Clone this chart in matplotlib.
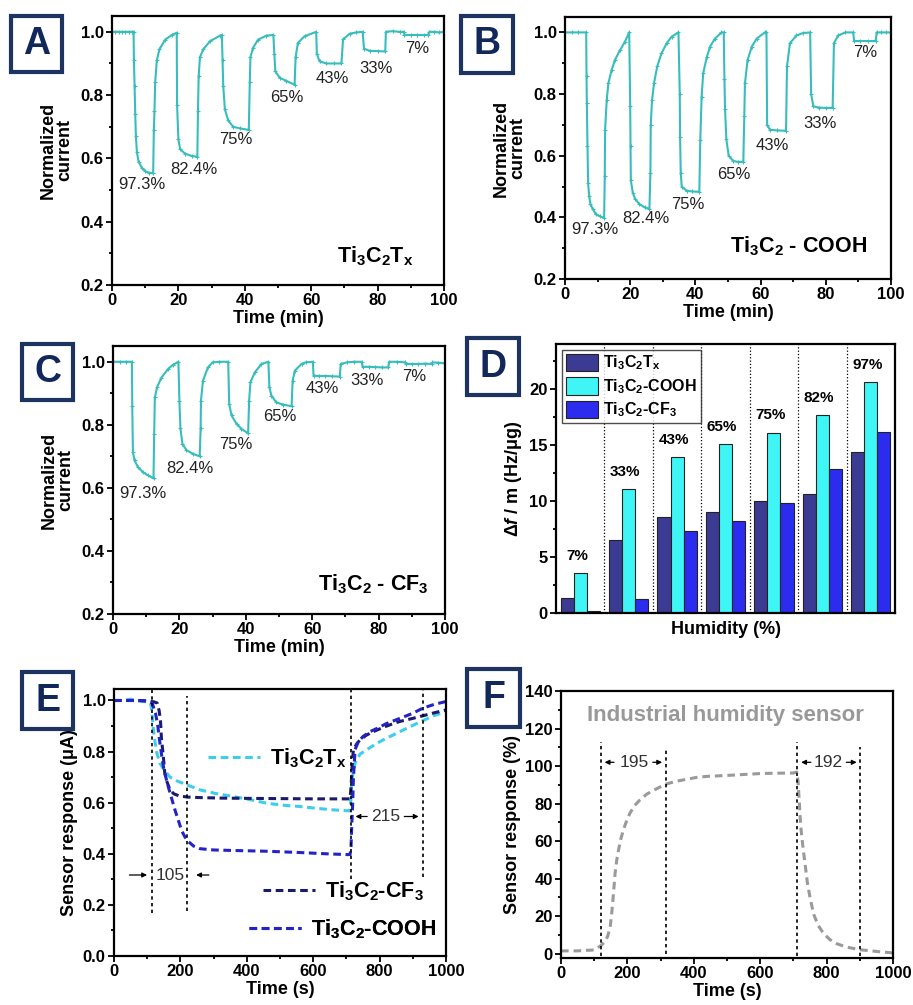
import matplotlib
matplotlib.use('Agg')
import matplotlib.pyplot as plt
from matplotlib.patches import Rectangle
from matplotlib.ticker import MultipleLocator

plt.rcParams['font.family'] = ['Liberation Sans', 'DejaVu Sans']
plt.rcParams['font.weight'] = 'bold'
plt.rcParams['axes.labelweight'] = 'bold'
plt.rcParams['mathtext.default'] = 'regular'
plt.rcParams['mathtext.fontset'] = 'custom'
plt.rcParams['mathtext.rm'] = 'Liberation Sans:bold'
plt.rcParams['mathtext.it'] = 'Liberation Sans:italic:bold'
plt.rcParams['mathtext.bf'] = 'Liberation Sans:bold'

# ---- panel A : Ti3C2Tx, normalized current vs time (min)
a_time = [0, 1, 2, 3, 4, 5, 6, 6.5,
          6.6, 6.8, 7.0, 7.2, 7.5, 8, 9, 10, 11, 12.4,
          12.6, 12.8, 13.0, 13.5, 14.3, 16, 18, 19.5,
          19.6, 20.0, 20.5, 22, 24, 25.7,
          25.9, 26.1, 26.5, 27.5, 29.5, 32.5, 33.1,
          33.3, 33.5, 34, 35, 36.5, 38.5, 41.2,
          41.5, 41.7, 42.5, 44, 46.5, 48.6,
          48.9, 49.2, 50.5, 52.5, 55.0,
          55.3, 56, 58, 61.5,
          61.7, 62.5, 64.5, 67, 69.1,
          69.6, 71.6, 73.5, 75.5,
          75.9, 77.6, 80, 82.3,
          82.5, 84.5, 86.6, 87.9,
          88.1, 90, 92, 94, 95.2,
          95.6, 97, 98.5, 100]
a_current = [1.0, 1.0, 1.0, 1.0, 1.0, 1.0, 1.0, 1.0,
             0.91, 0.83, 0.74, 0.67, 0.62, 0.59, 0.57, 0.56, 0.555, 0.553,
             0.69, 0.75, 0.84, 0.91, 0.945, 0.975, 0.99, 0.997,
             0.77, 0.66, 0.63, 0.615, 0.608, 0.605,
             0.75, 0.86, 0.92, 0.945, 0.97, 0.988, 0.99,
             0.91, 0.83, 0.755, 0.72, 0.70, 0.695, 0.69,
             0.84, 0.92, 0.95, 0.975, 0.988, 0.99,
             0.93, 0.875, 0.855, 0.845, 0.833,
             0.92, 0.965, 0.986, 1.0,
             0.93, 0.907, 0.90, 0.90, 0.90,
             0.976, 0.994, 0.998, 1.0,
             0.947, 0.94, 0.939, 0.938,
             1.0, 1.002, 1.0, 1.0,
             0.99, 0.99, 0.99, 0.99, 0.99,
             1.0, 1.0, 0.998, 1.0]

# ---- panel B : Ti3C2-COOH
b_time = [0, 2, 4, 6.5,
          6.6, 6.7, 6.9, 7.1, 7.4, 7.8, 8.5, 9.5, 10.8, 12.0,
          12.2, 12.3, 12.8, 13.3, 14.3, 15.3, 16.9, 18.4, 19.7,
          20.0, 20.1, 20.2, 20.8, 21.5, 22.8, 24.5, 25.9,
          26.2, 26.3, 26.7, 27.3, 28.3, 29.6, 31.2, 32.7, 34.8,
          35.2, 35.3, 35.5, 35.8, 37.3, 39, 41.2,
          41.5, 41.9, 42.4, 43.5, 44.5, 46, 48, 48.7,
          48.9, 49.1, 49.5, 50.2, 51.6, 53, 54.7,
          55.0, 55.2, 56, 57.3, 58.8, 61.3, 61.8,
          62.0, 62.9, 65, 67.8,
          68.1, 69, 71, 73, 75.2,
          75.5, 76.2, 78, 80, 82.1,
          82.5, 83.8, 86, 88.4,
          88.7, 90.5, 93, 95.3,
          95.6, 97, 98.5, 100]
b_current = [1.0, 1.0, 1.0, 1.0,
             0.86, 0.77, 0.63, 0.51, 0.47, 0.443, 0.427, 0.41, 0.403, 0.398,
             0.535, 0.685, 0.78, 0.835, 0.878, 0.91, 0.943, 0.97, 1.0,
             0.76, 0.63, 0.52, 0.48, 0.46, 0.443, 0.432, 0.428,
             0.545, 0.70, 0.78, 0.835, 0.89, 0.932, 0.965, 0.986, 1.0,
             0.80, 0.66, 0.545, 0.50, 0.486, 0.484, 0.483,
             0.65, 0.79, 0.868, 0.92, 0.954, 0.98, 1.0, 1.0,
             0.85, 0.75, 0.653, 0.60, 0.583, 0.58, 0.58,
             0.73, 0.835, 0.91, 0.954, 0.98, 1.0, 1.0,
             0.70, 0.684, 0.682, 0.681,
             0.89, 0.965, 0.99, 0.998, 1.0,
             0.80, 0.76, 0.756, 0.755, 0.755,
             0.965, 0.99, 1.0, 1.0,
             0.972, 0.972, 0.972, 0.972,
             1.0, 1.0, 1.0, 1.0]

# ---- panel C : Ti3C2-CF3
c_time = [0, 2, 4, 5.7,
          5.8, 6.0, 6.5, 7.5, 9, 10.5, 12.2,
          12.4, 12.6, 13.3, 14.6, 16.6, 18, 19.7,
          20.0, 20.3, 20.9, 22.1, 24.1, 26.1,
          26.4, 26.5, 27.1, 28.6, 30, 32, 34.7,
          35.0, 35.7, 37.2, 38.7, 40.7,
          41.0, 41.4, 42.7, 44.7, 46.8,
          47.1, 47.7, 49.2, 51.3, 53.8,
          54.1, 54.8, 56.8, 58, 60.2,
          60.4, 62, 64, 66, 68.3,
          68.6, 70.4, 72.5, 74.9,
          75.2, 77, 79, 81, 82.9,
          83.2, 85.5, 88,
          88.3, 90, 92, 94, 96,
          96.2, 98, 100]
c_current = [1.0, 1.0, 1.0, 1.0,
             0.86, 0.713, 0.687, 0.666, 0.65, 0.64, 0.63,
             0.77, 0.887, 0.92, 0.95, 0.977, 0.99, 1.0,
             0.877, 0.79, 0.74, 0.72, 0.708, 0.70,
             0.79, 0.877, 0.94, 0.982, 0.998, 1.0, 1.0,
             0.866, 0.83, 0.803, 0.787, 0.773,
             0.877, 0.935, 0.966, 0.993, 1.0,
             0.92, 0.893, 0.871, 0.864, 0.859,
             0.94, 0.972, 0.993, 0.998, 1.0,
             0.956, 0.955, 0.955, 0.954, 0.953,
             0.993, 0.998, 1.0, 1.0,
             0.984, 0.984, 0.983, 0.982, 0.982,
             1.0, 1.0, 0.998,
             0.993, 0.993, 0.993, 0.994, 0.993,
             0.998, 0.997, 0.995]

rh_steps = ['97.3%', '82.4%', '75%', '65%', '43%', '33%', '7%']

# ---- panel D : frequency shift per mass
humidity = ['7%', '33%', '43%', '65%', '75%', '82%', '97%']
d_tx = [1.3, 6.5, 8.55, 9.0, 9.95, 10.6, 14.35]
d_cooh = [3.6, 11.1, 13.95, 15.1, 16.1, 17.65, 20.6]
d_cf3 = [0.2, 1.25, 7.3, 8.25, 9.85, 12.85, 16.15]

# ---- panel E : response / recovery (s)
e_time_tx = [0, 25, 50, 75, 100, 110, 114, 117, 121, 128, 138, 150, 169, 190, 219,
             259, 310, 360, 410, 460, 510, 560, 610, 660, 709,
             713, 716, 721, 726, 741, 761, 786, 811, 836, 861, 886, 912, 937, 962, 1000]
e_tx = [1.0, 1.0, 1.005, 0.998, 0.995, 0.99, 0.96, 0.91, 0.86, 0.80, 0.755, 0.73, 0.70, 0.685, 0.67,
        0.65, 0.635, 0.624, 0.612, 0.598, 0.59, 0.585, 0.578, 0.572, 0.568,
        0.60, 0.69, 0.72, 0.755, 0.79, 0.807, 0.828, 0.846, 0.862, 0.878, 0.894, 0.91, 0.925, 0.94, 0.957]
e_time_cf3 = [0, 25, 50, 75, 100, 120, 130, 136, 140, 143, 148, 153, 160, 169, 180, 195,
              221, 260, 320, 400, 500, 600, 700, 711,
              714, 717, 721, 731, 741, 761, 781, 811, 836, 861, 900, 930, 965, 1000]
e_cf3 = [1.0, 1.0, 1.0, 1.0, 0.998, 0.995, 0.99, 0.96, 0.92, 0.85, 0.79, 0.715, 0.68, 0.65, 0.635, 0.627,
         0.622, 0.62, 0.618, 0.617, 0.616, 0.615, 0.615, 0.615,
         0.66, 0.74, 0.807, 0.83, 0.846, 0.865, 0.878, 0.895, 0.907, 0.918, 0.93, 0.94, 0.952, 0.963]
e_time_cooh = [0, 25, 50, 75, 100, 115, 125, 132, 137, 143, 149, 156, 164, 174, 184, 194, 204, 214, 224,
               240, 259, 300, 360, 460, 560, 640, 700, 711,
               714, 716, 719, 721, 726, 736, 751, 771, 791, 821, 861, 900, 930, 965, 1000]
e_cooh = [1.0, 1.0, 1.0, 1.0, 0.998, 0.99, 0.95, 0.90, 0.846, 0.79, 0.74, 0.70, 0.66, 0.615, 0.57, 0.53, 0.49, 0.465, 0.448,
          0.43, 0.42, 0.415, 0.413, 0.41, 0.405, 0.40, 0.397, 0.397,
          0.43, 0.506, 0.60, 0.69, 0.807, 0.84, 0.86, 0.878, 0.89, 0.91, 0.93, 0.95, 0.97, 0.985, 0.996]
e_marks = [113, 221, 714, 930]

# ---- panel F : industrial sensor
f_time = [0, 50, 100, 118, 130, 140, 148, 153, 158, 163, 168, 173, 180, 188, 198, 208, 222, 238,
          258, 278, 300, 320, 350, 380, 410, 440, 500, 550, 600, 650, 700, 710,
          714, 718, 722, 728, 735, 742, 750, 761, 775, 791, 810, 831, 860, 901, 950, 1000]
f_resp = [1.5, 1.5, 2, 4, 6, 9, 14, 22, 32, 43, 50, 55, 61, 66, 71, 75, 79, 82,
          85, 87, 89, 90.6, 92, 93, 94, 94.5, 95, 95.5, 96, 96.2, 96.3, 96.8,
          92, 80, 68, 58, 48, 38, 30, 21, 15, 10.7, 7.5, 5.3, 3.5, 2.1, 1.2, 0.4]
f_marks = [120, 316, 712, 902]

W, H = 913, 1005
TEAL = '#38bdbd'
NAVY = '#1d3461'


def rect(l, t, r, b):
    return [l / W, 1 - b / H, (r - l) / W, (b - t) / H]


def style(ax):
    for s in ax.spines.values():
        s.set_linewidth(1.6)
    ax.tick_params(which='both', direction='out', width=1.3, labelsize=12, pad=2)
    ax.tick_params(which='major', length=4)
    ax.tick_params(which='minor', length=2.5)


def panel_label(fig, l, t, r, b, letter):
    fig.patches.append(Rectangle((l / W, 1 - b / H), (r - l) / W, (b - t) / H,
                                 transform=fig.transFigure, facecolor='white',
                                 edgecolor=NAVY, lw=3, zorder=5))
    fig.text((l + r) / 2 / W, 1 - (t + b) / 2 / H, letter, ha='center', va='center',
             fontsize=27, color='#13285a', fontweight='bold', zorder=6)


def current_panel(ax, t, v, name, label_pos, name_pos):
    ax.plot(t, v, color=TEAL, lw=1.5, marker='+', ms=3, mew=0.8)
    ax.set_xlim(0, 100)
    ax.set_ylim(0.2, 1.05)
    ax.xaxis.set_major_locator(MultipleLocator(20))
    ax.xaxis.set_minor_locator(MultipleLocator(10))
    ax.yaxis.set_major_locator(MultipleLocator(0.2))
    ax.yaxis.set_minor_locator(MultipleLocator(0.1))
    style(ax)
    ax.set_xlabel('Time (min)', fontsize=13, labelpad=1)
    ax.set_ylabel('Normalized\ncurrent', fontsize=13, labelpad=5, linespacing=1.0)
    for lab, (x, y) in zip(rh_steps, label_pos):
        ax.text(x, y, lab, ha='center', va='center', fontsize=12, fontweight='normal', color='#222222')
    ax.text(name_pos[0], name_pos[1], name, ha='center', va='center', fontsize=15.5)


fig = plt.figure(figsize=(W / 100, H / 100), dpi=100)

# A
axA = fig.add_axes(rect(112, 16, 444, 285))
current_panel(axA, a_time, a_current, 'Ti$_3$C$_2$T$_x$',
              [(9.0, 0.517), (24.8, 0.564), (37.2, 0.659), (52.6, 0.791),
               (66.3, 0.854), (79.4, 0.884), (91.9, 0.947)], (79.2, 0.29))

# B
axB = fig.add_axes(rect(565, 17, 891, 279))
current_panel(axB, b_time, b_current, 'Ti$_3$C$_2$ - COOH',
              [(9.2, 0.359), (24.7, 0.395), (37.8, 0.443), (51.8, 0.54),
               (63.7, 0.633), (78.2, 0.703), (92.2, 0.935)], (71.5, 0.305))

# C
axC = fig.add_axes(rect(113, 346, 445, 614))
current_panel(axC, c_time, c_current, 'Ti$_3$C$_2$ - CF$_3$',
              [(9.0, 0.582), (23.1, 0.661), (37.0, 0.738), (50.3, 0.826),
               (63.1, 0.914), (76.6, 0.942), (90.7, 0.953)], (78.4, 0.295))

# D
axD = fig.add_axes(rect(556, 344, 895, 613))
xs = list(range(len(humidity)))
bw = 0.27
axD.bar([x - bw for x in xs], d_tx, bw, color='#3b3b94', edgecolor='#222222', lw=0.8,
        label='Ti$_3$C$_2$T$_x$', zorder=2)
axD.bar(xs, d_cooh, bw, color='#3ff5f5', edgecolor='#222222', lw=0.8,
        label='Ti$_3$C$_2$-COOH', zorder=2)
axD.bar([x + bw for x in xs], d_cf3, bw, color='#2c2cee', edgecolor='#222222', lw=0.8,
        label='Ti$_3$C$_2$-CF$_3$', zorder=2)
for x in xs[:-1]:
    axD.axvline(x + 0.5, color='black', ls=':', lw=0.9, zorder=1)
for x, lab, top in zip(xs, humidity, d_cooh):
    axD.text(x - 0.07, top + 0.9, lab, ha='center', va='bottom', fontsize=11)
axD.set_xlim(-0.5, len(humidity) - 0.5)
axD.set_ylim(0, 24)
axD.set_xticks([])
axD.yaxis.set_major_locator(MultipleLocator(5))
axD.yaxis.set_minor_locator(MultipleLocator(2.5))
style(axD)
axD.set_xlabel('Humidity (%)', fontsize=13, labelpad=6)
axD.set_ylabel('Δ$\\mathit{f}$ / m (Hz/μg)', fontsize=13, labelpad=4)
leg = axD.legend(loc='upper left', fontsize=11.5, frameon=True, fancybox=False,
                 edgecolor='#222222', handlelength=2.0, handleheight=1.3,
                 borderaxespad=0.35, borderpad=0.25, labelspacing=0.3, handletextpad=0.35)
leg.get_frame().set_linewidth(1.0)

# E
axE = fig.add_axes(rect(114, 689, 446, 956))
dash = (2.5, 1.5)
lTx, = axE.plot(e_time_tx, e_tx, color='#3fcdee', lw=2.2, dashes=dash)
lCF, = axE.plot(e_time_cf3, e_cf3, color='#1b1b6e', lw=2.2, dashes=dash)
lCO, = axE.plot(e_time_cooh, e_cooh, color='#2323c8', lw=2.2, dashes=dash)
spans = [(0.167, 1.045), (0.178, 1.018), (0.30, 1.045), (0.31, 1.045)]
for m, (y0, y1) in zip(e_marks, spans):
    axE.plot([m, m], [y0, y1], color='black', lw=1.2, dashes=(2, 2))
axE.text(168, 0.317, '105', ha='center', va='center', fontsize=12.5, fontweight='normal', color='#333333')
arr = dict(arrowstyle='-|>', lw=0.9, color='black', mutation_scale=7)
axE.annotate('', xy=(108, 0.317), xytext=(38, 0.317), arrowprops=arr)
axE.annotate('', xy=(239, 0.317), xytext=(294, 0.317), arrowprops=arr)
axE.text(819, 0.546, '215', ha='center', va='center', fontsize=12.5, fontweight='normal', color='#333333')
axE.annotate('', xy=(719, 0.546), xytext=(771, 0.546), arrowprops=arr)
axE.annotate('', xy=(926, 0.546), xytext=(866, 0.546), arrowprops=arr)
for line, lab, anchor in [(lTx, 'Ti$_3$C$_2$T$_x$', (0.284, 0.74)),
                          (lCF, 'Ti$_3$C$_2$-CF$_3$', (0.45, 0.241)),
                          (lCO, 'Ti$_3$C$_2$-COOH', (0.408, 0.10))]:
    lg = axE.legend([line], [lab], loc='center left', bbox_to_anchor=anchor, frameon=False,
                    fontsize=15.5, handlelength=2.4, handletextpad=0.45,
                    borderpad=0, borderaxespad=0)
    axE.add_artist(lg)
axE.set_xlim(0, 1000)
axE.set_ylim(0, 1.045)
axE.xaxis.set_major_locator(MultipleLocator(200))
axE.xaxis.set_minor_locator(MultipleLocator(100))
axE.yaxis.set_major_locator(MultipleLocator(0.2))
axE.yaxis.set_minor_locator(MultipleLocator(0.1))
style(axE)
axE.set_xlabel('Time (s)', fontsize=13, labelpad=1)
axE.set_ylabel('Sensor response (μA)', fontsize=13, labelpad=3)

# F
axF = fig.add_axes(rect(561, 691, 893, 958))
axF.plot(f_time, f_resp, color='#9a9a9a', lw=2.2, dashes=(2.5, 1.6))
fspans = [(-1, 112.8), (0, 109.8), (-1, 112.8), (-1, 110)]
for m, (y0, y1) in zip(f_marks, fspans):
    axF.plot([m, m], [y0, y1], color='black', lw=1.2, dashes=(2, 2))
axF.text(221, 102, '195', ha='center', va='center', fontsize=12.5, fontweight='normal', color='#333333')
axF.annotate('', xy=(123, 102), xytext=(168, 102), arrowprops=arr)
axF.annotate('', xy=(313, 102), xytext=(268, 102), arrowprops=arr)
axF.text(806, 102, '192', ha='center', va='center', fontsize=12.5, fontweight='normal', color='#333333')
axF.annotate('', xy=(715, 102), xytext=(761, 102), arrowprops=arr)
axF.annotate('', xy=(899, 102), xytext=(851, 102), arrowprops=arr)
axF.text(495, 127, 'Industrial humidity sensor', ha='center', va='center', fontsize=16, color='#999999')
axF.set_xlim(0, 1000)
axF.set_ylim(-2.3, 140)
axF.xaxis.set_major_locator(MultipleLocator(200))
axF.xaxis.set_minor_locator(MultipleLocator(100))
axF.yaxis.set_major_locator(MultipleLocator(20))
axF.yaxis.set_minor_locator(MultipleLocator(10))
style(axF)
axF.set_xlabel('Time (s)', fontsize=13, labelpad=1)
axF.set_ylabel('Sensor response (%)', fontsize=13, labelpad=3)

panel_label(fig, 11, 16, 62, 72, 'A')
panel_label(fig, 461, 16, 513, 73, 'B')
panel_label(fig, 22, 344, 73, 400, 'C')
panel_label(fig, 467, 338, 519, 395, 'D')
panel_label(fig, 22, 672, 73, 729, 'E')
panel_label(fig, 467, 669, 520, 727, 'F')

fig.savefig('out.png', dpi=100)
